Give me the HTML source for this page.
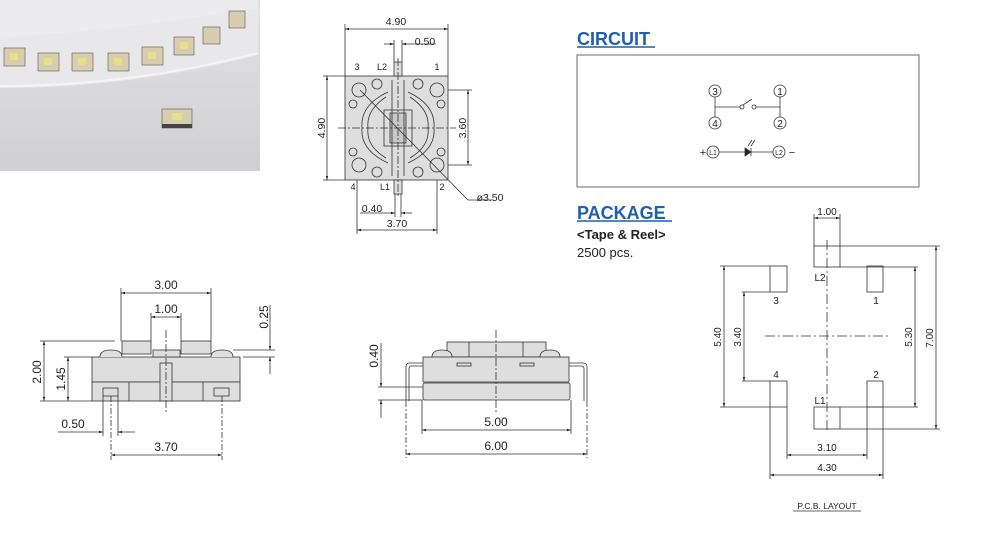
<!DOCTYPE html>
<html><head><meta charset="utf-8"><style>
html,body{margin:0;padding:0;background:#fff;}
svg{display:block;font-family:"Liberation Sans",sans-serif;}
</style></head><body>
<svg width="1000" height="545" viewBox="0 0 1000 545" xmlns="http://www.w3.org/2000/svg">
<defs>
<marker id="a" viewBox="0 0 10 10" refX="10" refY="5" markerWidth="6" markerHeight="5" orient="auto-start-reverse"><path d="M0,2 L10,5 L0,8z" fill="#222"/></marker>
<linearGradient id="pg" x1="0" y1="0" x2="0" y2="1"><stop offset="0" stop-color="#e2e2e4"/><stop offset="1" stop-color="#d0d0d2"/></linearGradient>
</defs>
<!-- photo -->
<rect x="0" y="0" width="260" height="171" fill="url(#pg)"/>
<path d="M0,0 L258,0 L258,8 Q130,30 0,38z" fill="#ececee"/>
<path d="M0,38 Q130,30 258,8 L258,55 Q130,88 0,88z" fill="#e8e8ea"/>
<path d="M0,86 Q130,86 258,53" stroke="#f4f4f4" stroke-width="2" fill="none"/>
<g fill="#d9cdb0" stroke="#555" stroke-width="0.6">
<rect x="4" y="48" width="21" height="18"/><rect x="38" y="53" width="21" height="18"/><rect x="72" y="53" width="21" height="18"/><rect x="108" y="53" width="21" height="18"/><rect x="142" y="47" width="21" height="18"/><rect x="174" y="37" width="20" height="18"/><rect x="203" y="27" width="17" height="17"/><rect x="229" y="11" width="16" height="17"/>
<rect x="162" y="109" width="30" height="19"/>
</g>
<rect x="162" y="124" width="30" height="4" fill="#444"/>
<g fill="#e6e08a"><rect x="10" y="53" width="8" height="7"/><rect x="44" y="58" width="8" height="7"/><rect x="78" y="58" width="8" height="7"/><rect x="114" y="58" width="8" height="7"/><rect x="148" y="52" width="8" height="7"/><rect x="180" y="42" width="8" height="7"/><rect x="172" y="113" width="10" height="7"/></g>

<g stroke="#333" stroke-width="0.8" fill="none">
<!-- TOP VIEW -->
<rect x="345" y="76" width="103" height="104" fill="#dedede"/>
<rect x="394" y="62" width="8" height="14" fill="#dedede"/>
<rect x="394" y="180" width="8" height="14" fill="#dedede"/>
<circle cx="359" cy="90" r="7"/><circle cx="437" cy="90" r="7"/><circle cx="359" cy="165" r="7"/><circle cx="437" cy="165" r="7"/>
<circle cx="377" cy="84" r="5"/><circle cx="418" cy="84" r="5"/><circle cx="377" cy="172" r="5"/><circle cx="418" cy="172" r="5"/>
<circle cx="353" cy="104" r="4"/><circle cx="441" cy="104" r="4"/><circle cx="353" cy="152" r="4"/><circle cx="441" cy="152" r="4"/>
<path d="M388,92 Q360,105 362,128 Q360,150 388,163"/><path d="M408,92 Q436,105 434,128 Q436,150 408,163"/>
<path d="M386,97 Q366,110 368,128 Q366,146 386,158"/><path d="M410,97 Q430,110 428,128 Q430,146 410,158"/>
<rect x="384" y="110" width="28" height="36"/><rect x="390" y="113" width="16" height="30" fill="#c8c8c8"/>
<line x1="392" y1="80" x2="392" y2="176"/><line x1="404" y1="80" x2="404" y2="176"/>
<line x1="398" y1="58" x2="398" y2="198" stroke-dasharray="8,2,2,2"/>
<line x1="338" y1="128" x2="456" y2="128" stroke-dasharray="8,2,2,2"/>
<line x1="360" y1="90" x2="468" y2="200"/>
<line x1="345" y1="76" x2="345" y2="24"/><line x1="448" y1="76" x2="448" y2="24"/>
<line x1="345" y1="29" x2="448" y2="29" marker-start="url(#a)" marker-end="url(#a)"/>
<line x1="394" y1="62" x2="394" y2="40"/><line x1="402" y1="62" x2="402" y2="40"/>
<line x1="384" y1="44" x2="394" y2="44" marker-end="url(#a)"/><line x1="412" y1="44" x2="402" y2="44" marker-end="url(#a)"/><line x1="412" y1="44" x2="436" y2="44"/>
<line x1="345" y1="76" x2="323" y2="76"/><line x1="345" y1="180" x2="323" y2="180"/>
<line x1="327" y1="76" x2="327" y2="180" marker-start="url(#a)" marker-end="url(#a)"/>
<line x1="448" y1="90" x2="472" y2="90"/><line x1="448" y1="165" x2="472" y2="165"/>
<line x1="468" y1="90" x2="468" y2="165" marker-start="url(#a)" marker-end="url(#a)"/>
<line x1="468" y1="200" x2="492" y2="200"/>
<line x1="357" y1="180" x2="357" y2="234"/><line x1="437" y1="180" x2="437" y2="234"/>
<line x1="357" y1="230" x2="437" y2="230" marker-start="url(#a)" marker-end="url(#a)"/>
<line x1="395" y1="194" x2="395" y2="217"/><line x1="401" y1="194" x2="401" y2="217"/>
<line x1="360" y1="213" x2="395" y2="213" marker-end="url(#a)"/><line x1="412" y1="213" x2="401" y2="213" marker-end="url(#a)"/>

<!-- LEFT SIDE VIEW -->
<rect x="92" y="357" width="148" height="25" fill="#dedede"/>
<rect x="92" y="382" width="148" height="19" fill="#dedede"/>
<line x1="129" y1="382" x2="129" y2="401"/><line x1="203" y1="382" x2="203" y2="401"/>
<rect x="122" y="341" width="29" height="13" fill="#dedede"/><rect x="181" y="341" width="30" height="13" fill="#dedede"/>
<rect x="153" y="350" width="27" height="7" fill="#dedede"/>
<path d="M100,357 Q100,350 111,350 Q122,350 122,357" fill="#dedede"/><path d="M211,357 Q211,350 222,350 Q233,350 233,357" fill="#dedede"/>
<rect x="160" y="363" width="12" height="38" fill="#dedede"/>
<rect x="103" y="388" width="15" height="8"/><rect x="214" y="388" width="15" height="8"/>
<line x1="166" y1="330" x2="166" y2="412" stroke-dasharray="8,2,2,2"/>
<line x1="121" y1="341" x2="121" y2="288"/><line x1="211" y1="341" x2="211" y2="288"/>
<line x1="121" y1="293" x2="211" y2="293" marker-start="url(#a)" marker-end="url(#a)"/>
<line x1="151" y1="341" x2="151" y2="313"/><line x1="181" y1="341" x2="181" y2="313"/>
<line x1="151" y1="317" x2="181" y2="317" marker-start="url(#a)" marker-end="url(#a)"/>
<line x1="233" y1="350" x2="275" y2="350"/><line x1="243" y1="357" x2="275" y2="357"/>
<line x1="270" y1="305" x2="270" y2="350" marker-end="url(#a)"/><line x1="270" y1="374" x2="270" y2="357" marker-end="url(#a)"/>
<line x1="40" y1="341" x2="115" y2="341"/><line x1="40" y1="401" x2="92" y2="401"/>
<line x1="44" y1="341" x2="44" y2="401" marker-start="url(#a)" marker-end="url(#a)"/>
<line x1="64" y1="357" x2="92" y2="357"/>
<line x1="68" y1="357" x2="68" y2="401" marker-start="url(#a)" marker-end="url(#a)"/>
<line x1="103" y1="396" x2="103" y2="436"/><line x1="118" y1="396" x2="118" y2="436"/>
<line x1="58" y1="432" x2="103" y2="432" marker-end="url(#a)"/><line x1="135" y1="432" x2="118" y2="432" marker-end="url(#a)"/>
<line x1="111" y1="396" x2="111" y2="460" stroke-dasharray="6,2,2,2"/><line x1="222" y1="396" x2="222" y2="460" stroke-dasharray="6,2,2,2"/>
<line x1="111" y1="455" x2="222" y2="455" marker-start="url(#a)" marker-end="url(#a)"/>

<!-- MIDDLE SIDE VIEW -->
<rect x="447" y="342" width="99" height="15" fill="#dedede"/>
<line x1="469" y1="342" x2="469" y2="357"/><line x1="523" y1="342" x2="523" y2="357"/>
<path d="M432,357 Q432,350 442,350 Q452,350 452,357" fill="#dedede"/><path d="M540,357 Q540,350 550,350 Q560,350 560,357" fill="#dedede"/>
<rect x="423" y="357" width="146" height="25" fill="#dedede"/>
<rect x="423" y="383" width="147" height="17" rx="2" fill="#dedede"/>
<rect x="457" y="363" width="14" height="3"/><rect x="520" y="363" width="14" height="3"/>
<path d="M423,363 L409,363 Q406,363 406,367 L406,401"/><path d="M423,366 L411,366 Q409,366 409,369 L409,401"/>
<path d="M569,363 L583,363 Q587,363 587,367 L587,401"/><path d="M569,366 L581,366 Q584,366 584,369 L584,401"/>
<line x1="496" y1="330" x2="496" y2="412" stroke-dasharray="8,2,2,2"/>
<line x1="378" y1="387" x2="423" y2="387"/><line x1="378" y1="400" x2="423" y2="400"/>
<line x1="381" y1="343" x2="381" y2="387" marker-end="url(#a)"/><line x1="381" y1="418" x2="381" y2="400" marker-end="url(#a)"/>
<line x1="422" y1="400" x2="422" y2="434"/><line x1="571" y1="400" x2="571" y2="434"/>
<line x1="422" y1="430" x2="571" y2="430" marker-start="url(#a)" marker-end="url(#a)"/>
<line x1="406" y1="401" x2="406" y2="458" stroke-dasharray="6,2,2,2"/><line x1="587" y1="401" x2="587" y2="458" stroke-dasharray="6,2,2,2"/>
<line x1="406" y1="454" x2="587" y2="454" marker-start="url(#a)" marker-end="url(#a)"/>

<!-- CIRCUIT -->
<rect x="577" y="55" width="342" height="132" stroke="#444"/>
<circle cx="715" cy="91" r="6"/><circle cx="780" cy="91" r="6"/><circle cx="715" cy="123" r="6"/><circle cx="780" cy="123" r="6"/>
<line x1="715" y1="97" x2="715" y2="117"/><line x1="780" y1="97" x2="780" y2="117"/>
<line x1="715" y1="107" x2="740" y2="107"/><circle cx="742" cy="107" r="2"/><circle cx="754" cy="107" r="2"/><line x1="756" y1="107" x2="780" y2="107"/>
<line x1="743" y1="105" x2="752" y2="99"/>
<circle cx="713" cy="152" r="6"/><circle cx="779" cy="152" r="6"/>
<line x1="719" y1="152" x2="773" y2="152"/>
<path d="M745,148 L751,152 L745,156z" fill="#222"/><line x1="751" y1="148" x2="751" y2="156"/>
<line x1="748" y1="146" x2="752" y2="140"/><line x1="751" y1="146" x2="755" y2="140"/>

<!-- PCB LAYOUT -->
<rect x="814" y="246" width="26" height="21"/><rect x="814" y="407" width="26" height="22"/>
<rect x="770" y="266" width="17" height="26"/><rect x="867" y="266" width="16" height="26"/>
<rect x="770" y="381" width="17" height="26"/><rect x="867" y="381" width="16" height="26"/>
<line x1="827" y1="240" x2="827" y2="433" stroke-dasharray="10,3,2,3"/>
<line x1="765" y1="336" x2="890" y2="336" stroke-dasharray="10,3,2,3"/>
<line x1="814" y1="246" x2="814" y2="214"/><line x1="840" y1="246" x2="840" y2="214"/>
<line x1="814" y1="218" x2="840" y2="218" marker-start="url(#a)" marker-end="url(#a)"/>
<line x1="840" y1="246" x2="940" y2="246"/><line x1="840" y1="429" x2="940" y2="429"/>
<line x1="936" y1="246" x2="936" y2="429" marker-start="url(#a)" marker-end="url(#a)"/>
<line x1="840" y1="267" x2="918" y2="267"/><line x1="840" y1="407" x2="918" y2="407"/>
<line x1="915" y1="267" x2="915" y2="407" marker-start="url(#a)" marker-end="url(#a)"/>
<line x1="720" y1="266" x2="770" y2="266"/><line x1="720" y1="407" x2="770" y2="407"/>
<line x1="724" y1="266" x2="724" y2="407" marker-start="url(#a)" marker-end="url(#a)"/>
<line x1="742" y1="292" x2="770" y2="292"/><line x1="742" y1="381" x2="770" y2="381"/>
<line x1="744" y1="292" x2="744" y2="381" marker-start="url(#a)" marker-end="url(#a)"/>
<line x1="787" y1="407" x2="787" y2="459"/><line x1="867" y1="407" x2="867" y2="459"/>
<line x1="787" y1="455" x2="867" y2="455" marker-start="url(#a)" marker-end="url(#a)"/>
<line x1="770" y1="407" x2="770" y2="479"/><line x1="883" y1="407" x2="883" y2="479"/>
<line x1="770" y1="475" x2="883" y2="475" marker-start="url(#a)" marker-end="url(#a)"/>
<line x1="793" y1="511" x2="861" y2="511"/>
</g>

<g fill="#222" font-size="10.5" text-anchor="middle">
<text x="396" y="25">4.90</text><text x="425" y="45">0.50</text>
<text transform="translate(325,128) rotate(-90)">4.90</text>
<text transform="translate(466,128) rotate(-90)">3.60</text>
<text x="490" y="201">ø3.50</text><text x="372" y="212">0.40</text><text x="397" y="227">3.70</text>
<text x="357" y="70" font-size="9">3</text><text x="382" y="70" font-size="9">L2</text><text x="437" y="70" font-size="9">1</text>
<text x="353" y="190" font-size="9">4</text><text x="385" y="190" font-size="9">L1</text><text x="442" y="190" font-size="9">2</text>
<text x="166" y="289" font-size="12">3.00</text><text x="166" y="313" font-size="12">1.00</text>
<text transform="translate(268,317) rotate(-90)" font-size="12">0.25</text>
<text transform="translate(41,372) rotate(-90)" font-size="12">2.00</text>
<text transform="translate(65,379) rotate(-90)" font-size="12">1.45</text>
<text x="73" y="428" font-size="12">0.50</text><text x="166" y="451" font-size="12">3.70</text>
<text transform="translate(378,356) rotate(-90)" font-size="12">0.40</text>
<text x="496" y="426" font-size="12">5.00</text><text x="496" y="450" font-size="12">6.00</text>
<text x="715" y="95" font-size="10">3</text><text x="780" y="95" font-size="10">1</text><text x="715" y="127" font-size="10">4</text><text x="780" y="127" font-size="10">2</text>
<text x="713" y="155" font-size="7">L1</text><text x="779" y="155" font-size="7">L2</text>
<text x="703" y="156" font-size="11">+</text><text x="792" y="156" font-size="11">−</text>
<text x="827" y="215" font-size="10">1.00</text>
<text transform="translate(933,338) rotate(-90)" font-size="10">7.00</text>
<text transform="translate(912,337) rotate(-90)" font-size="10">5.30</text>
<text transform="translate(721,337) rotate(-90)" font-size="10">5.40</text>
<text transform="translate(741,337) rotate(-90)" font-size="10">3.40</text>
<text x="827" y="451" font-size="10">3.10</text><text x="827" y="471" font-size="10">4.30</text>
<text x="820" y="281" font-size="10">L2</text><text x="776" y="304" font-size="10">3</text><text x="876" y="304" font-size="10">1</text>
<text x="776" y="378" font-size="10">4</text><text x="876" y="378" font-size="10">2</text><text x="820" y="404" font-size="10">L1</text>
<text x="827" y="509" font-size="8.5">P.C.B.  LAYOUT</text>
</g>

<g font-family="Liberation Sans,sans-serif">
<text x="577" y="45" font-size="18" font-weight="bold" fill="#1f5fae">CIRCUIT</text>
<line x1="577" y1="47" x2="655" y2="47" stroke="#1f5fae" stroke-width="1.5"/>
<text x="577" y="219" font-size="18" font-weight="bold" fill="#1f5fae">PACKAGE</text>
<line x1="577" y1="221" x2="672" y2="221" stroke="#1f5fae" stroke-width="1.5"/>
<text x="577" y="239" font-size="13" font-weight="bold" fill="#222">&lt;Tape &amp; Reel&gt;</text>
<text x="577" y="257" font-size="13" fill="#222">2500 pcs.</text>
</g>
</svg>
</body></html>
